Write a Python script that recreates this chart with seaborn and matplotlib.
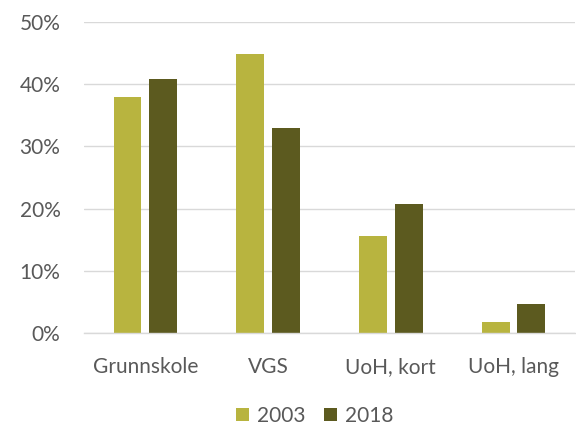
import matplotlib
matplotlib.use("Agg")
import matplotlib.pyplot as plt
import seaborn as sns
import pandas as pd
from matplotlib.ticker import PercentFormatter

categories = ["Grunnskole", "VGS", "UoH, kort", "UoH, lang"]
years = ["2003", "2018"]
values_2003 = [37.9, 44.9, 15.6, 1.7]
values_2018 = [40.8, 33.0, 20.8, 4.6]
colors = ["#B8B43F", "#5C5A1F"]

df = pd.DataFrame({
    "Kategori": categories * 2,
    "År": [years[0]] * 4 + [years[1]] * 4,
    "Andel": values_2003 + values_2018,
})

sns.set_theme(style="white")
plt.rcParams["font.family"] = ["Lato", "DejaVu Sans"]
text_color = "#595959"

fig = plt.figure(figsize=(5.76, 4.28), dpi=100)
ax = fig.add_axes([0.146, 0.222, 0.852, 0.727])

sns.barplot(data=df, x="Kategori", y="Andel", hue="År", palette=colors,
            width=0.585, gap=0.22, ax=ax, saturation=1, linewidth=0)

ax.set_ylim(0, 50)
ax.set_yticks([0, 10, 20, 30, 40, 50])
ax.yaxis.set_major_formatter(PercentFormatter(decimals=0))
ax.yaxis.grid(True, color="#D9D9D9", linewidth=1)
ax.set_axisbelow(True)
for s in ["top", "right", "left"]:
    ax.spines[s].set_visible(False)
ax.spines["bottom"].set_color("#D9D9D9")
ax.spines["bottom"].set_linewidth(1)
ax.set_xlabel("")
ax.set_ylabel("")
ax.tick_params(axis="both", length=0, labelsize=15, colors=text_color)
ax.tick_params(axis="x", pad=17)
ax.tick_params(axis="y", pad=17)

leg = ax.legend(loc="upper center", bbox_to_anchor=(0.47, -0.175), ncol=2,
                frameon=False, fontsize=15, handlelength=0.6, handleheight=0.6,
                columnspacing=0.9, handletextpad=0.4)
for t in leg.get_texts():
    t.set_color(text_color)

fig.savefig("out.png", dpi=100)
